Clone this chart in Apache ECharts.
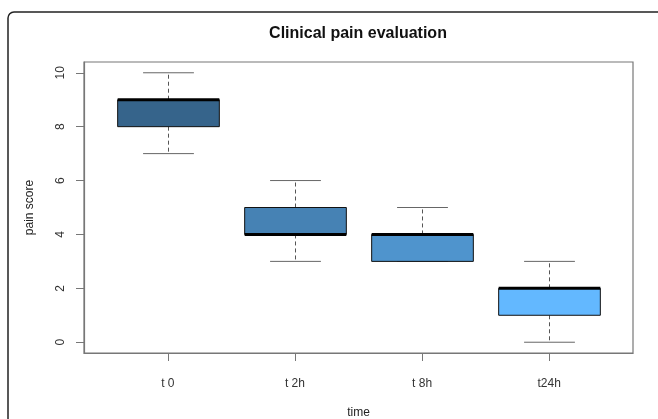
<!DOCTYPE html>
<html>
<head>
<meta charset="utf-8">
<script src="https://cdn.jsdelivr.net/npm/echarts@6/dist/echarts.min.js"></script>
<style>
html,body{margin:0;padding:0;background:#fff;}
#chart{width:658px;height:419px;}
</style>
</head>
<body>
<div id="chart"></div>
<script>
// ---- data ----
var categories = ['t 0', 't 2h', 't 8h', 't24h'];
var mins    = [7, 3, 3, 0];
var q1s     = [8, 4, 3, 1];
var medians = [9, 4, 4, 2];
var q3s     = [9, 5, 4, 2];
var maxs    = [10, 6, 5, 3];
var boxColors = ['#36648B', '#4682B4', '#4F94CD', '#63B8FF'];
var yTicks = [0, 2, 4, 6, 8, 10];
var xTicks = [1, 2, 3, 4];

var seriesData = categories.map(function (c, i) {
  return [i + 1, mins[i], q1s[i], medians[i], q3s[i], maxs[i]];
});

var chart = echarts.init(document.getElementById('chart'), null, {renderer: 'canvas'});
var FONT = 'Liberation Sans, Arial, sans-serif';

function renderItem(params, api) {
  var x = api.value(0);
  var vMin = api.value(1), vQ1 = api.value(2), vMed = api.value(3), vQ3 = api.value(4), vMax = api.value(5);
  var pMin = api.coord([x, vMin]);
  var pQ1 = api.coord([x, vQ1]);
  var pMed = api.coord([x, vMed]);
  var pQ3 = api.coord([x, vQ3]);
  var pMax = api.coord([x, vMax]);
  var boxW = api.size([0.8, 0])[0];
  var capW = api.size([0.4, 0])[0];
  var cx = Math.round(pMed[0]) + 0.5;
  var children = [];
  var whiskerStyle = {stroke: '#555', lineWidth: 1, lineDash: [4, 3]};
  var capStyle = {stroke: '#666', lineWidth: 1};
  if (vMax > vQ3) {
    children.push({type: 'line', shape: {x1: cx, y1: pQ3[1], x2: cx, y2: pMax[1]}, style: whiskerStyle});
  }
  if (vMin < vQ1) {
    children.push({type: 'line', shape: {x1: cx, y1: pQ1[1], x2: cx, y2: pMin[1]}, style: whiskerStyle});
  }
  children.push({type: 'line', shape: {x1: cx - capW / 2, y1: pMax[1], x2: cx + capW / 2, y2: pMax[1]}, style: capStyle});
  children.push({type: 'line', shape: {x1: cx - capW / 2, y1: pMin[1], x2: cx + capW / 2, y2: pMin[1]}, style: capStyle});
  children.push({
    type: 'rect',
    shape: {x: cx - boxW / 2, y: pQ3[1], width: boxW, height: pQ1[1] - pQ3[1]},
    style: {fill: boxColors[params.dataIndex], stroke: '#111', lineWidth: 1}
  });
  children.push({
    type: 'line',
    shape: {x1: cx - boxW / 2, y1: pMed[1], x2: cx + boxW / 2, y2: pMed[1]},
    style: {stroke: '#000', lineWidth: 3}
  });
  return {type: 'group', children: children};
}

var option = {
  animation: false,
  backgroundColor: '#fff',
  title: {
    text: 'Clinical pain evaluation',
    left: 353, top: 21, textAlign: 'center',
    textStyle: {fontFamily: FONT, fontSize: 16, fontWeight: 'bold', color: '#111'}
  },
  graphic: [{
    type: 'rect',
    shape: {x: 8, y: 12, width: 720, height: 500, r: 6},
    style: {fill: 'none', stroke: '#222', lineWidth: 1.5},
    silent: true
  }],
  grid: {
    left: 84, right: 25, top: 62, bottom: 66,
    outerBoundsMode: 'none', containLabel: false,
    show: true, borderColor: '#777', borderWidth: 1.2, backgroundColor: 'transparent'
  },
  xAxis: {
    type: 'value', min: 0.34, max: 4.66,
    name: 'time', nameLocation: 'middle', nameGap: 54,
    nameTextStyle: {fontFamily: FONT, fontSize: 12, color: '#222'},
    axisLine: {show: true, onZero: false, lineStyle: {color: '#777', width: 1.2}},
    axisTick: {show: true, inside: false, customValues: xTicks, length: 8, lineStyle: {color: '#777'}},
    axisLabel: {
      customValues: xTicks, margin: 25,
      fontFamily: FONT, fontSize: 12, color: '#333',
      formatter: function (v) { return categories[Math.round(v) - 1]; }
    },
    splitLine: {show: false}
  },
  yAxis: {
    type: 'value', min: -0.4, max: 10.4,
    name: 'pain score', nameLocation: 'middle', nameGap: 48,
    nameTextStyle: {fontFamily: FONT, fontSize: 12, color: '#222'},
    axisLine: {show: true, onZero: false, lineStyle: {color: '#777', width: 1.2}},
    axisTick: {show: true, inside: false, customValues: yTicks, length: 8, lineStyle: {color: '#777'}},
    axisLabel: {
      customValues: yTicks, rotate: 90, margin: 17,
      fontFamily: FONT, fontSize: 12, color: '#333'
    },
    splitLine: {show: false}
  },
  series: [{
    type: 'custom',
    renderItem: renderItem,
    encode: {x: 0, y: [1, 2, 3, 4, 5]},
    data: seriesData,
    clip: false
  }]
};
chart.setOption(option);
</script>
</body>
</html>
